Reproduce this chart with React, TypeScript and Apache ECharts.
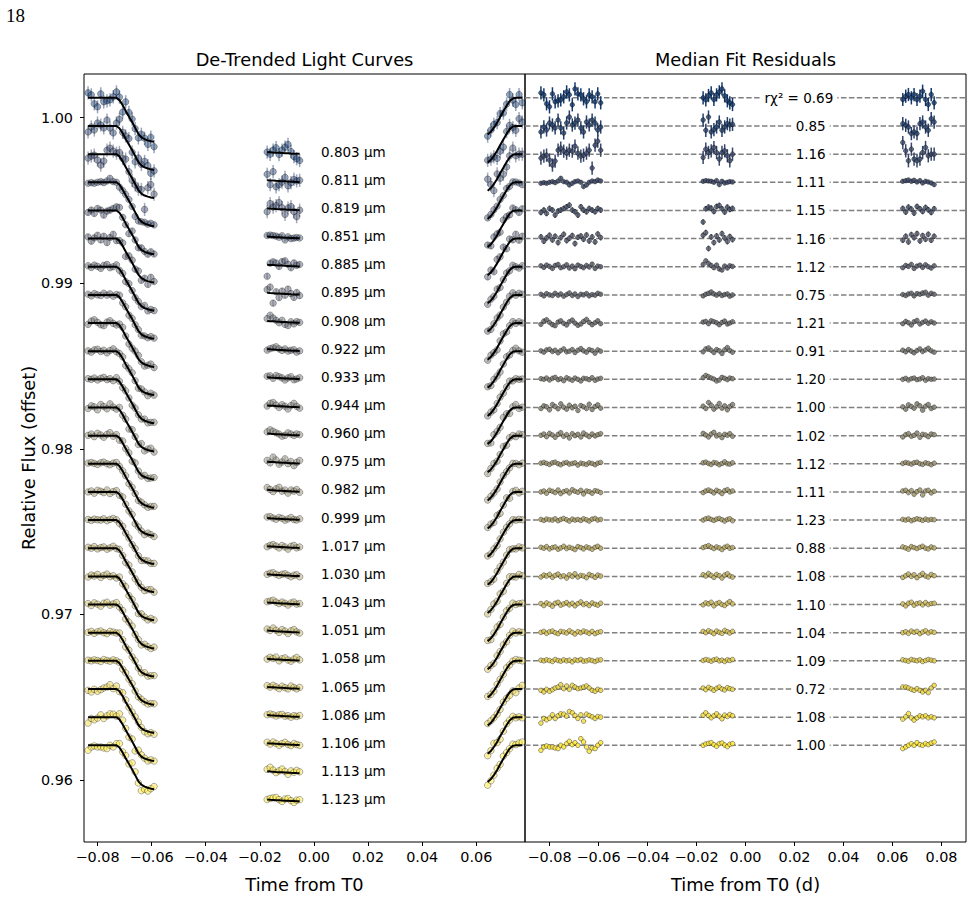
import React, { useEffect, useRef } from "react";
import * as echarts from "echarts";

// ---------------- data ----------------
const WAVELENGTHS = ["0.803", "0.811", "0.819", "0.851", "0.885", "0.895", "0.908", "0.922", "0.933", "0.944", "0.960", "0.975", "0.982", "0.999", "1.017", "1.030", "1.043", "1.051", "1.058", "1.065", "1.086", "1.106", "1.113", "1.123"];
const RCHI2 = ["0.69", "0.85", "1.16", "1.11", "1.15", "1.16", "1.12", "0.75", "1.21", "0.91", "1.20", "1.00", "1.02", "1.12", "1.11", "1.23", "0.88", "1.08", "1.10", "1.04", "1.09", "0.72", "1.08", "1.00"];
const BASELINES = [1.0012, 0.9995, 0.9978, 0.9961, 0.9944, 0.9927, 0.991, 0.9893, 0.9876, 0.9859, 0.9842, 0.9825, 0.9808, 0.9791, 0.9774, 0.9757, 0.974, 0.9723, 0.9706, 0.9689, 0.9672, 0.9655, 0.9638, 0.9621];
const DEPTHS = [0.0034, 0.0034, 0.0034, 0.0034, 0.0034, 0.0034, 0.0034, 0.0034, 0.0034, 0.0034, 0.0034, 0.0034, 0.0034, 0.0034, 0.0034, 0.0034, 0.0034, 0.0034, 0.0034, 0.0034, 0.0034, 0.0034, 0.0034, 0.0034];
// error bar half-lengths, in units of 1e-5
const ERRORS = [40, 40, 40, 11, 17, 17, 11, 10, 11, 10, 9, 11, 10, 8, 10, 8, 9, 9, 9, 9, 8, 8, 9, 9];

const TIMES_1 = [-0.0835, -0.0823, -0.0812, -0.08, -0.0788, -0.0777, -0.0765, -0.0754, -0.0742, -0.073, -0.0719, -0.0707, -0.0696, -0.0684, -0.0672, -0.0661, -0.0649, -0.0638, -0.0626, -0.0614, -0.0603, -0.0591];
const TIMES_2 = [-0.0173, -0.0162, -0.0151, -0.014, -0.0129, -0.0118, -0.0107, -0.0096, -0.0085, -0.0074, -0.0064, -0.0053];
const TIMES_3 = [0.0642, 0.0654, 0.0665, 0.0677, 0.0688, 0.07, 0.0712, 0.0723, 0.0735, 0.0746, 0.0758, 0.077];
// median transit model, as a fraction of the depth below the baseline
const MODEL_1 = [0, 0, 0, 0, 0, 0, 0, 0, 0, 0, 0.04, 0.13, 0.23, 0.33, 0.43, 0.53, 0.64, 0.7, 0.735, 0.755, 0.77, 0.78];
const MODEL_2 = [0.963, 0.967, 0.97, 0.974, 0.977, 0.98, 0.983, 0.986, 0.989, 0.991, 0.993, 0.995];
const MODEL_3 = [0.65, 0.6, 0.53, 0.44, 0.34, 0.24, 0.14, 0.06, 0.01, 0, 0, 0];

// residuals (units of 1e-5): 22 pre-transit | 12 in-transit | 12 post-transit
const RESID_00 = [30, 18, -36, -54, 24, -24, -18, -12, 6, 36, 18, -42, 54, 24, 18, -6, -24, 18, 6, -24, 24, -30, 0, -12, 14, 30, -10, 18, 36, 54, 12, -18, -30, -40, -10, 10, 20, 0, 20, -10, 10, 40, -10, -40, 20, -30];
const RESID_01 = [-36, -6, -24, 18, 6, -12, 36, -12, -42, 18, 54, 6, 18, 36, -12, -36, 24, 6, 36, 18, -24, -6, 36, -26, 54, -36, -22, -6, 24, -26, -6, 14, 6, 10, 14, 4, -6, -46, -36, -46, 14, 24, -6, -26, 44, 24];
const RESID_02 = [-24, -12, -6, -36, -66, -42, 24, 36, 18, 6, 24, 18, 48, 6, -12, -6, 6, 24, -84, 54, 78, 24, -20, 30, 10, 20, 40, 10, -30, 10, 20, -10, -40, 0, 70, 20, -40, 30, -30, -40, -30, 10, 40, -10, 0, 0];
const RESID_03 = [-6, -2, -6, 0, 4, -2, 8, 24, 4, 0, -16, -6, 4, 8, 0, -26, -16, 0, 8, 4, 14, 8, 6, 10, 8, 6, 0, 10, -14, 6, -4, 0, 4, 2, 6, 10, 14, 6, 12, 2, 10, -4, 6, 2, -4, -14];
const RESID_04 = [-12, 2, -18, 12, 2, -28, -4, 2, 12, 22, 32, 2, -8, -28, 22, 2, -8, 12, 2, -8, 12, 2, -70, 10, 20, 14, -6, 24, 30, 10, -10, 20, 6, 12, 12, -10, 20, 8, -16, 24, 10, -6, 18, 4, -12, 10];
const RESID_05 = [10, -16, 4, 20, -8, 14, -24, 6, 26, -12, 2, 18, -30, 8, 16, -4, 22, -14, 10, -20, 28, 6, 20, 36, -60, 10, -24, 16, -8, 30, 4, -18, 12, -6, -10, 14, -20, 24, 6, 30, -14, 18, -4, 26, -10, 14];
const RESID_06 = [6, -4, 10, 2, -10, 8, 14, -6, 0, 12, -8, 4, -12, 10, 2, -6, 8, -2, 16, -10, 4, 0, 14, 36, 20, 8, -6, 10, -14, -20, 4, -8, 6, 2, -6, 8, 2, 14, -10, 4, 10, -4, 12, 0, -8, 6];
const RESID_07 = [4, -6, 8, 0, -4, 10, -2, 6, -8, 2, 12, -4, 6, -10, 4, 0, 8, -6, 2, -2, 10, 4, -6, 4, 10, 18, 6, -2, 8, -4, 2, 6, -8, 0, 2, -4, 6, 10, -6, 8, 4, 12, 16, -2, 10, 4];
const RESID_08 = [-8, 12, 20, 4, -10, -16, 6, 14, -2, -12, 8, 18, 0, -14, -6, 10, 22, 4, -10, 2, 14, -4, 6, 10, -4, 14, 8, 2, -10, 4, 12, -6, 0, 8, -4, 10, 2, -12, 8, 16, -6, 4, 12, -2, 8, 0];
const RESID_09 = [2, -6, 8, 12, -2, 6, -10, 4, 14, -4, 0, 10, -8, 6, 16, 2, -6, 10, 4, -12, 8, 0, -4, 14, 20, 6, -8, 10, 2, -14, 8, 22, 4, -6, 6, -4, 10, 0, -10, 4, 14, -2, 8, 18, 2, -6];
const RESID_10 = [4, 0, 8, -4, 6, 12, -2, 4, -8, 10, 2, -6, 8, 0, -10, 6, 4, -2, 10, -6, 2, 6, 10, 24, 16, 8, 2, -10, -4, 12, 6, -2, 8, 4, 0, 6, -4, 4, 8, -2, 2, 10, -6, 4, 0, 2];
const RESID_11 = [-6, 10, 4, -14, 18, 6, -8, 22, 2, -10, 14, -2, 8, -18, 12, 4, -6, 20, -12, 6, 16, -4, 8, -6, 30, 14, -10, 4, 24, -4, 10, -14, 6, 18, 4, -10, 16, 6, -4, 22, 10, -16, 8, 18, -6, 2];
const RESID_12 = [2, 10, -6, 14, 4, -10, 8, 18, -4, 6, -14, 12, 0, 8, -8, 16, 4, -6, 10, -2, 6, 12, 14, 4, -8, 10, 20, -2, 6, -12, 8, 2, 12, -4, -8, 6, 12, -4, 2, 16, -10, 8, 4, -6, 10, 6];
const RESID_13 = [4, 8, 2, -4, 6, 10, 0, -6, 4, 8, -2, 2, 6, -8, 4, 0, -4, 6, 2, -6, 4, 8, 6, 10, 2, -4, 8, 4, -6, 2, 12, 0, -2, 6, 2, 8, 4, -2, 6, 10, 0, -4, 6, 2, -6, 4];
const RESID_14 = [0, 6, -8, 10, 4, -4, 12, -10, 2, 8, -6, 14, 4, -2, 10, -12, 6, 2, -8, 8, 4, -4, -4, 6, 12, 4, -6, 10, 2, -10, 8, 14, 0, 6, 6, 10, -4, 8, -14, 2, 12, -18, 6, 10, -6, 4];
const RESID_15 = [4, -2, 6, 2, 0, 8, -4, 4, 10, 2, -6, 6, 0, 4, -2, 8, 2, -6, 6, 10, 0, 4, 0, 8, 12, 4, -2, 6, 10, 2, -6, 4, 8, -4, 4, 0, 6, -4, 2, 8, 4, -2, 6, 0, 4, 2];
const RESID_16 = [6, 0, 10, -4, 4, 8, -6, 2, 12, -2, 6, 0, -8, 10, 4, -4, 8, 2, -6, 6, 12, 0, 4, 10, 16, 6, -2, 8, 2, -8, 6, 12, 0, 4, 8, 2, -6, 10, 4, -2, 6, 12, 0, -4, 8, 2];
const RESID_17 = [-4, 8, 2, 12, -6, 6, 14, -2, 4, -10, 10, 0, 16, -4, 6, 2, -8, 12, 4, -6, 8, 2, 10, 2, 18, 6, -6, 12, 4, -10, 8, 16, 2, -4, -6, 4, 14, 0, 10, -8, 6, 18, 2, -4, 12, 4];
const RESID_18 = [6, -6, 10, 2, -10, 8, 14, -4, 4, 12, -2, 8, -8, 6, 16, 0, 6, -6, 10, 2, -4, 8, -2, 10, 4, 14, -8, 6, 12, 0, -6, 8, 18, 4, 4, -8, 8, 14, -4, 6, 10, -2, 12, 0, 6, 8];
const RESID_19 = [2, 8, -4, 6, 10, 0, -6, 8, 4, -2, 12, 2, -8, 6, 0, 10, 4, -4, 8, -6, 2, 6, 8, 0, 12, 4, -6, 10, 2, -4, 14, 6, -2, 8, 0, 6, -4, 10, 2, 8, -6, 4, 12, -2, 6, 2];
const RESID_20 = [4, 0, 6, 2, -4, 8, 2, -2, 6, 0, 4, -6, 6, 2, 8, -2, 0, 6, 2, -4, 4, 6, 2, 8, 4, -2, 6, 10, 0, 4, -4, 6, 2, 8, 6, 2, -2, 8, 4, 0, 6, -4, 2, 8, 4, 0];
const RESID_21 = [-8, -18, -2, -14, -4, 6, 12, 26, 2, 18, -2, 22, 12, 2, 6, 12, 18, 6, -8, -14, -2, -8, 6, -4, 10, 2, -8, 4, 12, 0, -6, 8, 2, -2, 12, 12, 6, -2, -8, 2, -8, -18, -8, -22, 6, 22];
const RESID_22 = [-36, -8, -16, -6, 14, -8, 8, 20, 18, 6, 34, 26, 10, -8, 14, -24, 18, 10, 2, -8, 4, 0, 12, 26, 10, -4, 8, 20, 6, -10, 12, 4, 16, 8, -12, 2, 22, -4, -18, -4, 8, 2, 8, -4, 2, -4];
const RESID_23 = [-30, -10, -4, -10, -10, -16, -20, 0, -10, 10, 24, 4, 16, 0, 40, 20, -10, -36, -16, -20, 0, 16, 0, 8, 12, 16, 4, -6, 10, 14, 2, -8, 6, 10, -20, -10, 0, 10, 0, 16, 4, 0, 10, 4, 14, 20];
const RESIDUALS = [RESID_00, RESID_01, RESID_02, RESID_03, RESID_04, RESID_05, RESID_06, RESID_07, RESID_08, RESID_09, RESID_10, RESID_11, RESID_12, RESID_13, RESID_14, RESID_15, RESID_16, RESID_17, RESID_18, RESID_19, RESID_20, RESID_21, RESID_22, RESID_23];

const X_TICKS_LEFT = [-0.08, -0.06, -0.04, -0.02, 0, 0.02, 0.04, 0.06];
const X_TICKS_RIGHT = [-0.08, -0.06, -0.04, -0.02, 0, 0.02, 0.04, 0.06, 0.08];
const Y_TICKS = [0.96, 0.97, 0.98, 0.99, 1.0];

// ---------------- styling ----------------
const FONT = '"DejaVu Sans", "Noto Sans", sans-serif';
const CIVIDIS = ["#00204D", "#00336F", "#39486B", "#575C6D", "#707173", "#8A8779", "#A69D75", "#C4B56C", "#E4CF5B", "#FFEA46"];

function hexToRgb(h: string) {
  const n = parseInt(h.slice(1), 16);
  return [(n >> 16) & 255, (n >> 8) & 255, n & 255];
}
function cividis(f: number) {
  const s = Math.max(0, Math.min(1, f)) * (CIVIDIS.length - 1);
  const k = Math.min(CIVIDIS.length - 2, Math.floor(s));
  const u = s - k;
  const a = hexToRgb(CIVIDIS[k]);
  const b = hexToRgb(CIVIDIS[k + 1]);
  const c = a.map((v, j) => Math.round(v + (b[j] - v) * u));
  return `rgb(${c[0]},${c[1]},${c[2]})`;
}
const ROW_COLORS = WAVELENGTHS.map((_, i) => cividis(0.15 + (0.85 * i) / (WAVELENGTHS.length - 1)));

const fmt = (v: number) => v.toFixed(2).replace("-", "\u2212");

function buildOption() {
  const segments = [
    { times: TIMES_1, model: MODEL_1, offset: 0 },
    { times: TIMES_2, model: MODEL_2, offset: TIMES_1.length },
    { times: TIMES_3, model: MODEL_3, offset: TIMES_1.length + TIMES_2.length },
  ];
  const leftPts: any[] = [];
  const rightPts: any[] = [];
  const leftErr: number[][] = [];
  const rightErr: number[][] = [];
  const modelSeries: any[] = [];
  const dashSeries: any[] = [];

  WAVELENGTHS.forEach((_, i) => {
    const base = BASELINES[i];
    const depth = DEPTHS[i];
    const err = ERRORS[i] * 1e-5;
    const color = ROW_COLORS[i];
    segments.forEach((seg) => {
      const line: number[][] = [];
      seg.times.forEach((t, j) => {
        const m = base - depth * seg.model[j];
        const r = RESIDUALS[i][seg.offset + j] * 1e-5;
        line.push([t, m]);
        leftPts.push({ value: [t, m + r], itemStyle: { color, borderColor: "#000", borderWidth: 0.7, opacity: 0.45 } });
        leftErr.push([t, m + r, err, i]);
        rightPts.push({ value: [t, base + r], itemStyle: { color, borderColor: "#000", borderWidth: 0.5 } });
        rightErr.push([t, base + r, err, i]);
      });
      modelSeries.push({
        type: "line", xAxisIndex: 0, yAxisIndex: 0, data: line, symbol: "none", silent: true, z: 4,
        lineStyle: { color: "#000", width: 2 },
      });
    });
    dashSeries.push({
      type: "line", xAxisIndex: 1, yAxisIndex: 1, data: [[-0.09, base], [0.09, base]], symbol: "none", silent: true, z: 1,
      lineStyle: { color: "#808080", width: 1.5, type: [5.5, 2.4] },
    });
  });

  const errRender = (alpha: number, width: number) => (params: any, api: any) => {
    const x = api.value(0), y = api.value(1), e = api.value(2), row = api.value(3);
    const p1 = api.coord([x, y - e]);
    const p2 = api.coord([x, y + e]);
    return {
      type: "line",
      shape: { x1: p1[0], y1: p1[1], x2: p2[0], y2: p2[1] },
      style: { stroke: ROW_COLORS[row], lineWidth: width, opacity: alpha },
    };
  };

  const axisCommon = {
    axisLine: { show: false, onZero: false },
    splitLine: { show: false },
  };

  return {
    animation: false,
    backgroundColor: "#fff",
    grid: [
      { left: 84, top: 74, width: 441, height: 768, show: true, borderColor: "#000", borderWidth: 1, backgroundColor: "transparent" },
      { left: 525, top: 74, width: 441, height: 768, show: true, borderColor: "#000", borderWidth: 1, backgroundColor: "transparent" },
    ],
    xAxis: [
      {
        type: "value", gridIndex: 0, min: -0.085, max: 0.078, ...axisCommon,
        axisTick: { show: true, length: 4, customValues: X_TICKS_LEFT, lineStyle: { color: "#000", width: 1 } },
        axisLabel: { customValues: X_TICKS_LEFT, formatter: fmt, fontSize: 14.4, fontFamily: FONT, color: "#000", margin: 8 },
        name: "Time from T0", nameLocation: "middle", nameGap: 33,
        nameTextStyle: { fontSize: 17.8, fontFamily: FONT, color: "#000" },
      },
      {
        type: "value", gridIndex: 1, min: -0.09, max: 0.09, ...axisCommon,
        axisTick: { show: true, length: 4, customValues: X_TICKS_RIGHT, lineStyle: { color: "#000", width: 1 } },
        axisLabel: { customValues: X_TICKS_RIGHT, formatter: fmt, fontSize: 14.4, fontFamily: FONT, color: "#000", margin: 8 },
        name: "Time from T0 (d)", nameLocation: "middle", nameGap: 33,
        nameTextStyle: { fontSize: 17.8, fontFamily: FONT, color: "#000" },
      },
    ],
    yAxis: [
      {
        type: "value", gridIndex: 0, min: 0.95626, max: 1.00264, ...axisCommon,
        axisTick: { show: true, length: 4, customValues: Y_TICKS, lineStyle: { color: "#000", width: 1 } },
        axisLabel: { customValues: Y_TICKS, formatter: fmt, fontSize: 14.4, fontFamily: FONT, color: "#000", margin: 11 },
        name: "Relative Flux (offset)", nameLocation: "middle", nameGap: 47,
        nameTextStyle: { fontSize: 17.8, fontFamily: FONT, color: "#000" },
      },
      {
        type: "value", gridIndex: 1, min: 0.95626, max: 1.00264, ...axisCommon,
        axisTick: { show: false }, axisLabel: { show: false },
      },
    ],
    graphic: [
      { type: "text", x: 6, y: 15, style: { text: "18", font: '19px "Liberation Serif", "DejaVu Serif", serif', fill: "#000", textAlign: "left", textVerticalAlign: "middle", align: "left", verticalAlign: "middle" } },
      { type: "text", x: 304.5, y: 59, style: { text: "De-Trended Light Curves", font: `17.8px ${FONT}`, fill: "#000", textAlign: "center", textVerticalAlign: "middle", align: "center", verticalAlign: "middle" } },
      { type: "text", x: 745.5, y: 59, style: { text: "Median Fit Residuals", font: `17.8px ${FONT}`, fill: "#000", textAlign: "center", textVerticalAlign: "middle", align: "center", verticalAlign: "middle" } },
    ],
    series: [
      ...dashSeries,
      { type: "custom", xAxisIndex: 0, yAxisIndex: 0, data: leftErr, renderItem: errRender(0.45, 1.5), silent: true, z: 2 },
      { type: "scatter", xAxisIndex: 0, yAxisIndex: 0, data: leftPts, symbol: "circle", symbolSize: 6.5, silent: true, z: 3 },
      ...modelSeries,
      { type: "custom", xAxisIndex: 1, yAxisIndex: 1, data: rightErr, renderItem: errRender(1, 1.5), silent: true, z: 2 },
      { type: "scatter", xAxisIndex: 1, yAxisIndex: 1, data: rightPts, symbol: "circle", symbolSize: 4.6, silent: true, z: 3 },
      {
        type: "custom", xAxisIndex: 0, yAxisIndex: 0, silent: true, z: 6,
        data: WAVELENGTHS.map((_, i) => [0.0026, BASELINES[i] - 0.00325]),
        renderItem: (params: any, api: any) => {
          const p = api.coord([api.value(0), api.value(1)]);
          return {
            type: "text", x: p[0], y: p[1],
            style: { text: WAVELENGTHS[params.dataIndex] + " \u00b5m", fill: "#000", font: `13.5px ${FONT}`, textAlign: "left", textVerticalAlign: "middle", align: "left", verticalAlign: "middle" },
          };
        },
      },
      {
        type: "custom", xAxisIndex: 1, yAxisIndex: 1, silent: true, z: 6,
        data: WAVELENGTHS.map((_, i) => [i === 0 ? 0.0218 : 0.0266, BASELINES[i]]),
        renderItem: (params: any, api: any) => {
          const p = api.coord([api.value(0), api.value(1)]);
          const i = params.dataIndex;
          return {
            type: "text", x: p[0], y: p[1],
            style: {
              text: (i === 0 ? "r\u03c7\u00b2 = " : "") + RCHI2[i], fill: "#000", font: `13.5px ${FONT}`,
              textAlign: "center", textVerticalAlign: "middle", align: "center", verticalAlign: "middle",
              backgroundColor: "#fff", padding: [1, 4],
            },
          };
        },
      },
    ],
  };
}

export default function App() {
  const ref = useRef<HTMLDivElement>(null);
  useEffect(() => {
    if (!ref.current) return;
    const chart = echarts.init(ref.current, null, { renderer: "svg" });
    chart.setOption(buildOption() as any);
    return () => chart.dispose();
  }, []);
  return <div ref={ref} style={{ position: "absolute", left: 0, top: 0, width: 974, height: 924, background: "#fff" }} />;
}
